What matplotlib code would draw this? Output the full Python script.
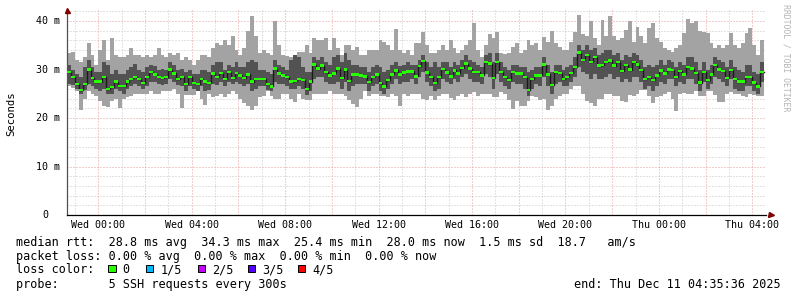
import numpy as np
import matplotlib
matplotlib.use("Agg")
import matplotlib.pyplot as plt
import matplotlib.transforms as mtransforms
from matplotlib.patches import Rectangle

##############################################################################
# Canvas / layout (pixels of the 797x297 picture)
##############################################################################
(W, H, DPI) = (797, 297, 100)
MONO = "DejaVu Sans Mono"
(AX_L, AX_R, AX_T, AX_B) = (66.7, 766.2, 10.0, 215.0)

T0 = 22 + 40 / 60                       # first sample, hours after Tue 00:00
STEP = 1 / 6                            # 10 min per sample
X_LO = 22 + 38 / 60 + 50 / 3600
X_HI = 52 + 35 / 60 + 36 / 3600         # Thu 04:35:36
Y_TOP = 42.27

##############################################################################
# Data (ms)
##############################################################################
median = [
    29.5, 28.5, 27.0, 25.8, 27.0, 30.0, 28.2, 27.5, 27.5, 28.5,
    26.0, 26.4, 27.5, 26.6, 26.6, 27.5, 28.0, 28.5, 28.0, 27.2,
    28.5, 29.5, 29.0, 28.4, 28.2, 28.4, 30.0, 29.2, 28.0, 28.4,
    27.0, 28.5, 27.2, 27.0, 28.0, 27.5, 27.2, 29.2, 28.4, 29.3,
    28.0, 29.5, 28.3, 29.3, 28.8, 28.2, 29.0, 27.5, 28.0, 28.0,
    28.0, 27.0, 26.5,
    30.2, 29.2, 28.8, 28.4, 27.5, 27.6, 28.0, 27.8, 26.0, 27.5,
    31.0, 30.2, 30.8, 29.5, 28.8, 29.2, 30.2, 28.3, 30.0, 27.6,
    29.0, 29.0, 28.8, 28.6, 27.4, 28.5,
    29.0, 27.2, 26.5, 27.8, 29.0, 29.8, 29.0, 29.4, 29.6, 29.6,
    28.6, 30.7, 31.7, 29.4, 28.4, 27.2, 28.5, 30.1, 29.4, 28.6,
    29.8, 29.2, 30.3,
    31.2, 30.2, 29.5, 29.5, 28.8, 31.6, 31.2, 28.2, 31.6, 29.5,
    28.5, 27.8, 29.5, 29.2, 29.2, 28.4, 25.8, 28.1, 28.8, 28.8,
    31.0, 29.0, 26.8, 29.5, 29.3, 28.0, 28.5,
    29.3, 30.5, 33.5, 32.0, 33.0, 31.6, 32.6, 30.8, 30.9, 31.5,
    31.9, 30.8, 31.6, 29.7, 30.9, 30.0, 31.6, 31.0, 29.9, 28.1,
    28.5, 27.8, 28.8, 29.8, 29.2,
    30.0, 29.9, 28.5, 29.7, 29.0, 30.5, 30.2, 29.3, 27.3, 29.5,
    27.8, 29.0, 30.9, 30.0, 29.7, 28.3, 29.9, 28.0, 27.5, 27.5,
    28.5, 28.5, 27.3, 26.5, 29.5,
]
ping_max = [
    33.5, 33.6, 32.0, 31.5, 32.5, 35.5, 33.0, 31.0, 34.0, 36.0,
    32.0, 36.5, 33.0, 32.5, 32.5, 33.0, 34.5, 33.0, 33.0, 32.5,
    33.0, 32.5, 33.0, 34.4, 33.0, 32.5, 33.5, 33.0, 33.4, 32.0,
    32.5, 32.0, 31.0, 32.0, 33.0, 33.0, 32.5, 34.5, 35.5, 35.0,
    36.0, 35.0, 37.0, 34.0, 33.0, 34.5, 38.0, 41.0, 37.0, 33.5,
    34.0, 33.5, 33.0,
    40.0, 35.0, 33.0, 32.8, 32.5, 33.0, 33.6, 33.6, 35.0, 33.5,
    36.5, 36.0, 36.0, 36.4, 34.0, 36.5, 34.5, 33.0, 35.0, 35.0,
    34.0, 34.6, 33.0, 33.0, 34.0, 34.0, 34.0, 36.0, 35.7, 35.0,
    34.0, 38.4, 34.0, 33.5, 34.0, 33.0, 35.5, 35.5, 37.8, 35.0,
    33.5, 33.5, 34.0, 35.0, 34.0, 36.0, 34.5, 33.5,
    34.0, 35.0, 36.0, 39.5, 34.0, 32.5, 35.0, 37.4, 36.5, 37.8,
    33.5, 33.3, 33.5, 34.7, 35.5, 33.5, 34.0, 36.0, 35.0, 35.5,
    34.0, 36.7, 35.7, 38.0, 35.4, 34.6, 34.0, 34.0,
    35.7, 37.8, 41.2, 37.4, 37.0, 40.0, 36.5, 35.0, 40.2, 37.0,
    41.0, 37.0, 36.0, 36.5, 38.1, 40.0, 35.7, 38.8, 37.0, 35.4,
    38.5, 39.5, 36.5, 35.7, 34.5,
    34.0, 33.7, 34.5, 35.0, 37.6, 40.5, 39.5, 40.0, 38.0, 37.8,
    37.5, 35.5, 34.4, 35.0, 34.5, 35.0, 37.5, 35.0, 34.5, 35.5,
    37.5, 38.5, 35.0, 33.0, 36.0,
]
ping_hi = [
    31.0, 30.0, 29.0, 28.5, 30.5, 32.0, 30.5, 29.5, 29.5, 31.5,
    31.0, 29.0, 30.0, 29.0, 29.0, 30.0, 30.5, 31.2, 30.0, 29.5,
    30.5, 31.0, 30.8, 30.0, 30.2, 30.0, 31.5, 31.0, 30.0, 30.2,
    29.5, 30.0, 29.0, 29.0, 30.0, 30.0, 29.5, 31.0, 31.5, 31.5,
    30.0, 31.0, 30.5, 31.5, 30.5, 30.5, 31.5, 32.0, 31.5, 30.0,
    30.0, 29.5, 29.0,
    32.0, 31.0, 30.5, 30.0, 32.0, 33.0, 32.5, 30.5, 29.5, 29.5,
    32.5, 32.0, 32.5, 31.5, 31.0, 32.5, 33.0, 31.5, 33.5, 32.0,
    31.0, 31.0, 30.5, 30.5, 29.5, 30.5, 31.0, 30.5, 29.5, 30.0,
    31.0, 31.5, 30.8, 31.0, 31.5, 31.0, 31.0, 32.0, 33.0, 31.5,
    30.5, 31.5, 30.5, 31.5, 31.5, 30.5, 31.5, 31.0,
    32.0, 33.0, 32.0, 31.5, 31.0, 30.5, 33.0, 33.5, 31.5, 33.5,
    31.5, 30.5, 30.0, 31.0, 31.0, 30.5, 30.5, 29.5, 30.0, 30.5,
    30.5, 32.5, 31.0, 29.5, 31.0, 31.0, 30.0, 30.5,
    31.0, 32.5, 35.0, 34.0, 35.0, 34.0, 34.5, 33.0, 33.5, 34.0,
    34.0, 33.0, 33.5, 32.0, 33.0, 32.5, 33.5, 33.0, 32.0, 30.5,
    31.0, 30.5, 31.0, 32.0, 31.0,
    32.0, 31.5, 30.5, 31.5, 31.0, 32.5, 32.5, 31.5, 30.0, 31.5,
    30.0, 31.0, 32.5, 32.0, 31.5, 30.5, 32.0, 30.5, 30.0, 29.5,
    31.0, 31.0, 29.5, 29.0, 31.5,
]
ping_lo = [
    27.0, 26.8, 26.0, 25.0, 25.8, 27.0, 26.5, 26.0, 25.5, 26.0,
    25.0, 25.0, 26.0, 25.5, 25.0, 26.0, 26.5, 27.0, 26.5, 26.0,
    26.5, 27.5, 27.5, 27.0, 26.8, 27.0, 28.0, 27.5, 26.8, 26.5,
    25.5, 26.5, 26.0, 25.5, 26.5, 25.5, 25.8, 27.0, 26.8, 27.5,
    26.5, 27.5, 27.0, 27.5, 27.0, 26.5, 27.0, 25.5, 26.0, 26.5,
    26.5, 25.8, 25.5,
    27.5, 27.0, 27.0, 26.5, 26.0, 26.0, 26.5, 26.0, 24.8, 25.5,
    28.0, 28.5, 28.5, 27.5, 27.0, 27.0, 27.5, 26.0, 27.5, 25.5,
    26.5, 27.0, 27.0, 27.0, 25.5, 26.5, 27.0, 25.5, 25.0, 26.0,
    27.0, 28.0, 27.0, 27.5, 27.5, 28.0, 27.0, 28.5, 29.5, 27.5,
    26.5, 25.5, 26.0, 28.0, 27.5, 27.0, 28.0, 27.5,
    28.5, 29.0, 28.0, 27.5, 27.5, 27.0, 29.0, 28.5, 26.0, 29.0,
    27.5, 26.5, 26.0, 27.5, 27.0, 27.0, 26.0, 24.5, 26.0, 27.0,
    26.5, 28.5, 26.5, 25.0, 27.0, 27.5, 26.5, 26.5,
    27.5, 28.5, 30.5, 29.5, 29.0, 28.0, 29.0, 28.0, 28.0, 28.5,
    29.0, 28.0, 28.5, 27.5, 28.0, 27.5, 28.5, 28.5, 27.5, 26.0,
    26.5, 25.5, 26.5, 27.5, 27.0,
    28.0, 28.0, 26.5, 27.5, 27.0, 28.0, 28.0, 27.0, 25.5, 27.5,
    26.0, 27.0, 28.5, 28.0, 27.5, 26.5, 28.0, 26.0, 25.5, 25.5,
    26.5, 26.5, 25.5, 25.0, 27.5,
]
ping_min = [
    26.5, 26.2, 25.5, 21.6, 24.0, 25.5, 25.0, 24.5, 23.6, 22.5,
    22.3, 23.5, 24.0, 22.0, 24.0, 24.3, 24.5, 25.0, 25.0, 25.0,
    25.0, 25.5, 25.0, 25.0, 25.5, 25.5, 25.5, 26.0, 25.0, 22.0,
    24.7, 24.7, 24.7, 25.5, 24.0, 22.7, 25.0, 24.3, 24.5, 25.0,
    24.3, 25.0, 25.5, 25.0, 24.0, 23.0, 22.5, 21.6, 22.5, 24.3,
    24.5, 25.5, 24.5,
    24.0, 24.0, 25.0, 25.0, 24.0, 23.4, 25.0, 24.0, 23.7, 23.7,
    25.0, 25.0, 25.0, 25.0, 25.5, 25.0, 25.0, 25.0, 24.5, 23.7,
    22.8, 22.2, 24.0, 25.5, 24.5, 25.0, 25.0, 24.5, 24.5, 24.4,
    25.0, 24.5, 22.4, 25.0, 24.5, 25.0, 25.0, 25.0, 24.0, 23.7,
    24.5, 23.7, 24.5, 25.0, 25.0, 24.2, 23.7, 24.5,
    25.0, 24.4, 25.0, 25.4, 24.5, 25.0, 25.0, 25.0, 24.4, 24.4,
    25.4, 25.0, 23.7, 21.8, 23.5, 22.5, 22.4, 23.5, 24.5, 24.4,
    23.8, 24.0, 21.6, 22.5, 24.0, 24.5, 25.0, 25.0,
    26.0, 26.5, 26.5, 25.0, 23.5, 23.0, 22.5, 24.0, 24.0, 25.0,
    25.0, 24.5, 24.5, 23.5, 23.3, 24.7, 24.5, 25.0, 25.8, 25.7,
    24.5, 23.0, 24.4, 24.5, 25.0,
    25.4, 24.0, 21.5, 25.0, 25.2, 25.0, 25.0, 25.5, 24.5, 24.5,
    25.5, 25.5, 24.8, 23.3, 23.2, 25.0, 25.3, 25.0, 25.0, 24.5,
    24.3, 25.0, 24.8, 24.5, 24.5,
]

xtick_hours = [24, 28, 32, 36, 40, 44, 48, 52]
xtick_labels = ["Wed 00:00", "Wed 04:00", "Wed 08:00", "Wed 12:00",
                "Wed 16:00", "Wed 20:00", "Thu 00:00", "Thu 04:00"]
ytick_vals = [0, 10, 20, 30, 40]
ytick_labels = ["0", "10 m", "20 m", "30 m", "40 m"]

legend_rtt = ("median rtt:  28.8 ms avg  34.3 ms max  25.4 ms min  "
              "28.0 ms now  1.5 ms sd  18.7   am/s")
legend_loss = "packet loss: 0.00 % avg  0.00 % max  0.00 % min  0.00 % now"
loss_labels = ["0", "1/5", "2/5", "3/5", "4/5"]
loss_colors = ["#26ff00", "#00b8ff", "#c800ff", "#5500ff", "#ff0000"]
probe_text = "probe:       5 SSH requests every 300s"
end_text = "end: Thu Dec 11 04:35:36 2025"

##############################################################################
# Figure
##############################################################################
def fx(x):
    return x / W


def fy(y):
    return 1 - y / H


fig = plt.figure(figsize=(W / DPI, H / DPI), dpi=DPI, facecolor="white")
ax = fig.add_axes([fx(AX_L), fy(AX_B), (AX_R - AX_L) / W, (AX_B - AX_T) / H])
ax.set_facecolor("white")
ax.set_xlim(X_LO, X_HI)
ax.set_ylim(0, Y_TOP)

# grid (under the data)
dots = (0, (1, 2))
for v in np.arange(2, 43, 2):
    major = v % 10 == 0
    ax.axhline(v, color="#e5a0a0" if major else "#c8c8c8", lw=0.72,
               ls=dots, zorder=0)
for h in np.arange(23, 53):
    ax.axvline(h, color="#e5a0a0" if h % 2 == 0 else "#c8c8c8", lw=0.72,
               ls=dots, zorder=0)

# smoke + median
n = len(median)
t = T0 + STEP * np.arange(n + 1)


def ext(a):
    a = np.asarray(a, dtype=float)
    return np.append(a, a[-1])


ax.fill_between(t, ext(ping_min), ext(ping_max), step="post",
                color="#a3a3a3", lw=0, zorder=2)
ax.fill_between(t, ext(ping_lo), ext(ping_hi), step="post",
                color="#525252", lw=0, zorder=3)
ax.step(t, ext(median), where="post", color="#1a1a1a", lw=1.0, zorder=4)
sw = 0.25
ax.fill_between(t, ext(median) - sw, ext(median) + sw, step="post",
                color=loss_colors[0], lw=0, zorder=5)

# axes
for s in ("top", "right"):
    ax.spines[s].set_visible(False)
ax.spines["left"].set_color("#505050")
ax.spines["bottom"].set_color("black")
ax.spines["left"].set_linewidth(0.9)
ax.spines["bottom"].set_linewidth(0.9)
ax.plot([0], [1.0], marker="^", ms=3.6, color="#800000", mec="#800000",
        transform=ax.transAxes, clip_on=False, zorder=6)
ax.plot([1.0062], [0], marker=">", ms=3.6, color="#800000", mec="#800000",
        transform=ax.transAxes, clip_on=False, zorder=6)

ax.set_xticks(xtick_hours)
ax.set_xticklabels(xtick_labels, fontfamily=MONO, fontsize=7.2)
ax.tick_params(axis="x", length=0, pad=3.4)
ax.set_yticks([])

ylab_tr = mtransforms.blended_transform_factory(fig.transFigure, ax.transData)
for v, lab in zip(ytick_vals, ytick_labels):
    xr = 48.3 if lab == "0" else 59.5
    fig.text(fx(xr), v, lab, transform=ylab_tr, ha="right", va="center",
             fontfamily=MONO, fontsize=7.2)

fig.text(fx(11), fy(114), "Seconds", rotation=90, ha="center", va="center",
         fontfamily=MONO, fontsize=7.7)
fig.text(fx(786), fy(4.5), "RRDTOOL / TOBI OETIKER", rotation=270,
         ha="center", va="top", fontfamily=MONO, fontsize=5.9,
         color="#b4b4b4")

##############################################################################
# Legend block
##############################################################################
LEG = dict(fontfamily=MONO, fontsize=8.5, va="baseline")
fig.text(fx(16), fy(245.6), legend_rtt, **LEG)
fig.text(fx(16), fy(259.6), legend_loss, **LEG)
fig.text(fx(16), fy(273.4), "loss color:", **LEG)
box_x = [108.3, 145.7, 197.7, 247.7, 297.7]
lab_x = [122.6, 160.6, 212.0, 262.0, 312.0]
for bx, lx, lab, col in zip(box_x, lab_x, loss_labels, loss_colors):
    fig.add_artist(Rectangle((fx(bx), fy(272.4)), 7.4 / W, 7.3 / H,
                             transform=fig.transFigure, facecolor=col,
                             edgecolor="black", lw=0.7))
    fig.text(fx(lx), fy(273.4), lab, **LEG)
fig.text(fx(16), fy(287.6), probe_text, **LEG)
fig.text(fx(780.5), fy(287.6), end_text, ha="right", fontfamily=MONO,
         fontsize=8.5, va="baseline")

fig.savefig("out.png", dpi=DPI, facecolor="white")
plt.close("all")
